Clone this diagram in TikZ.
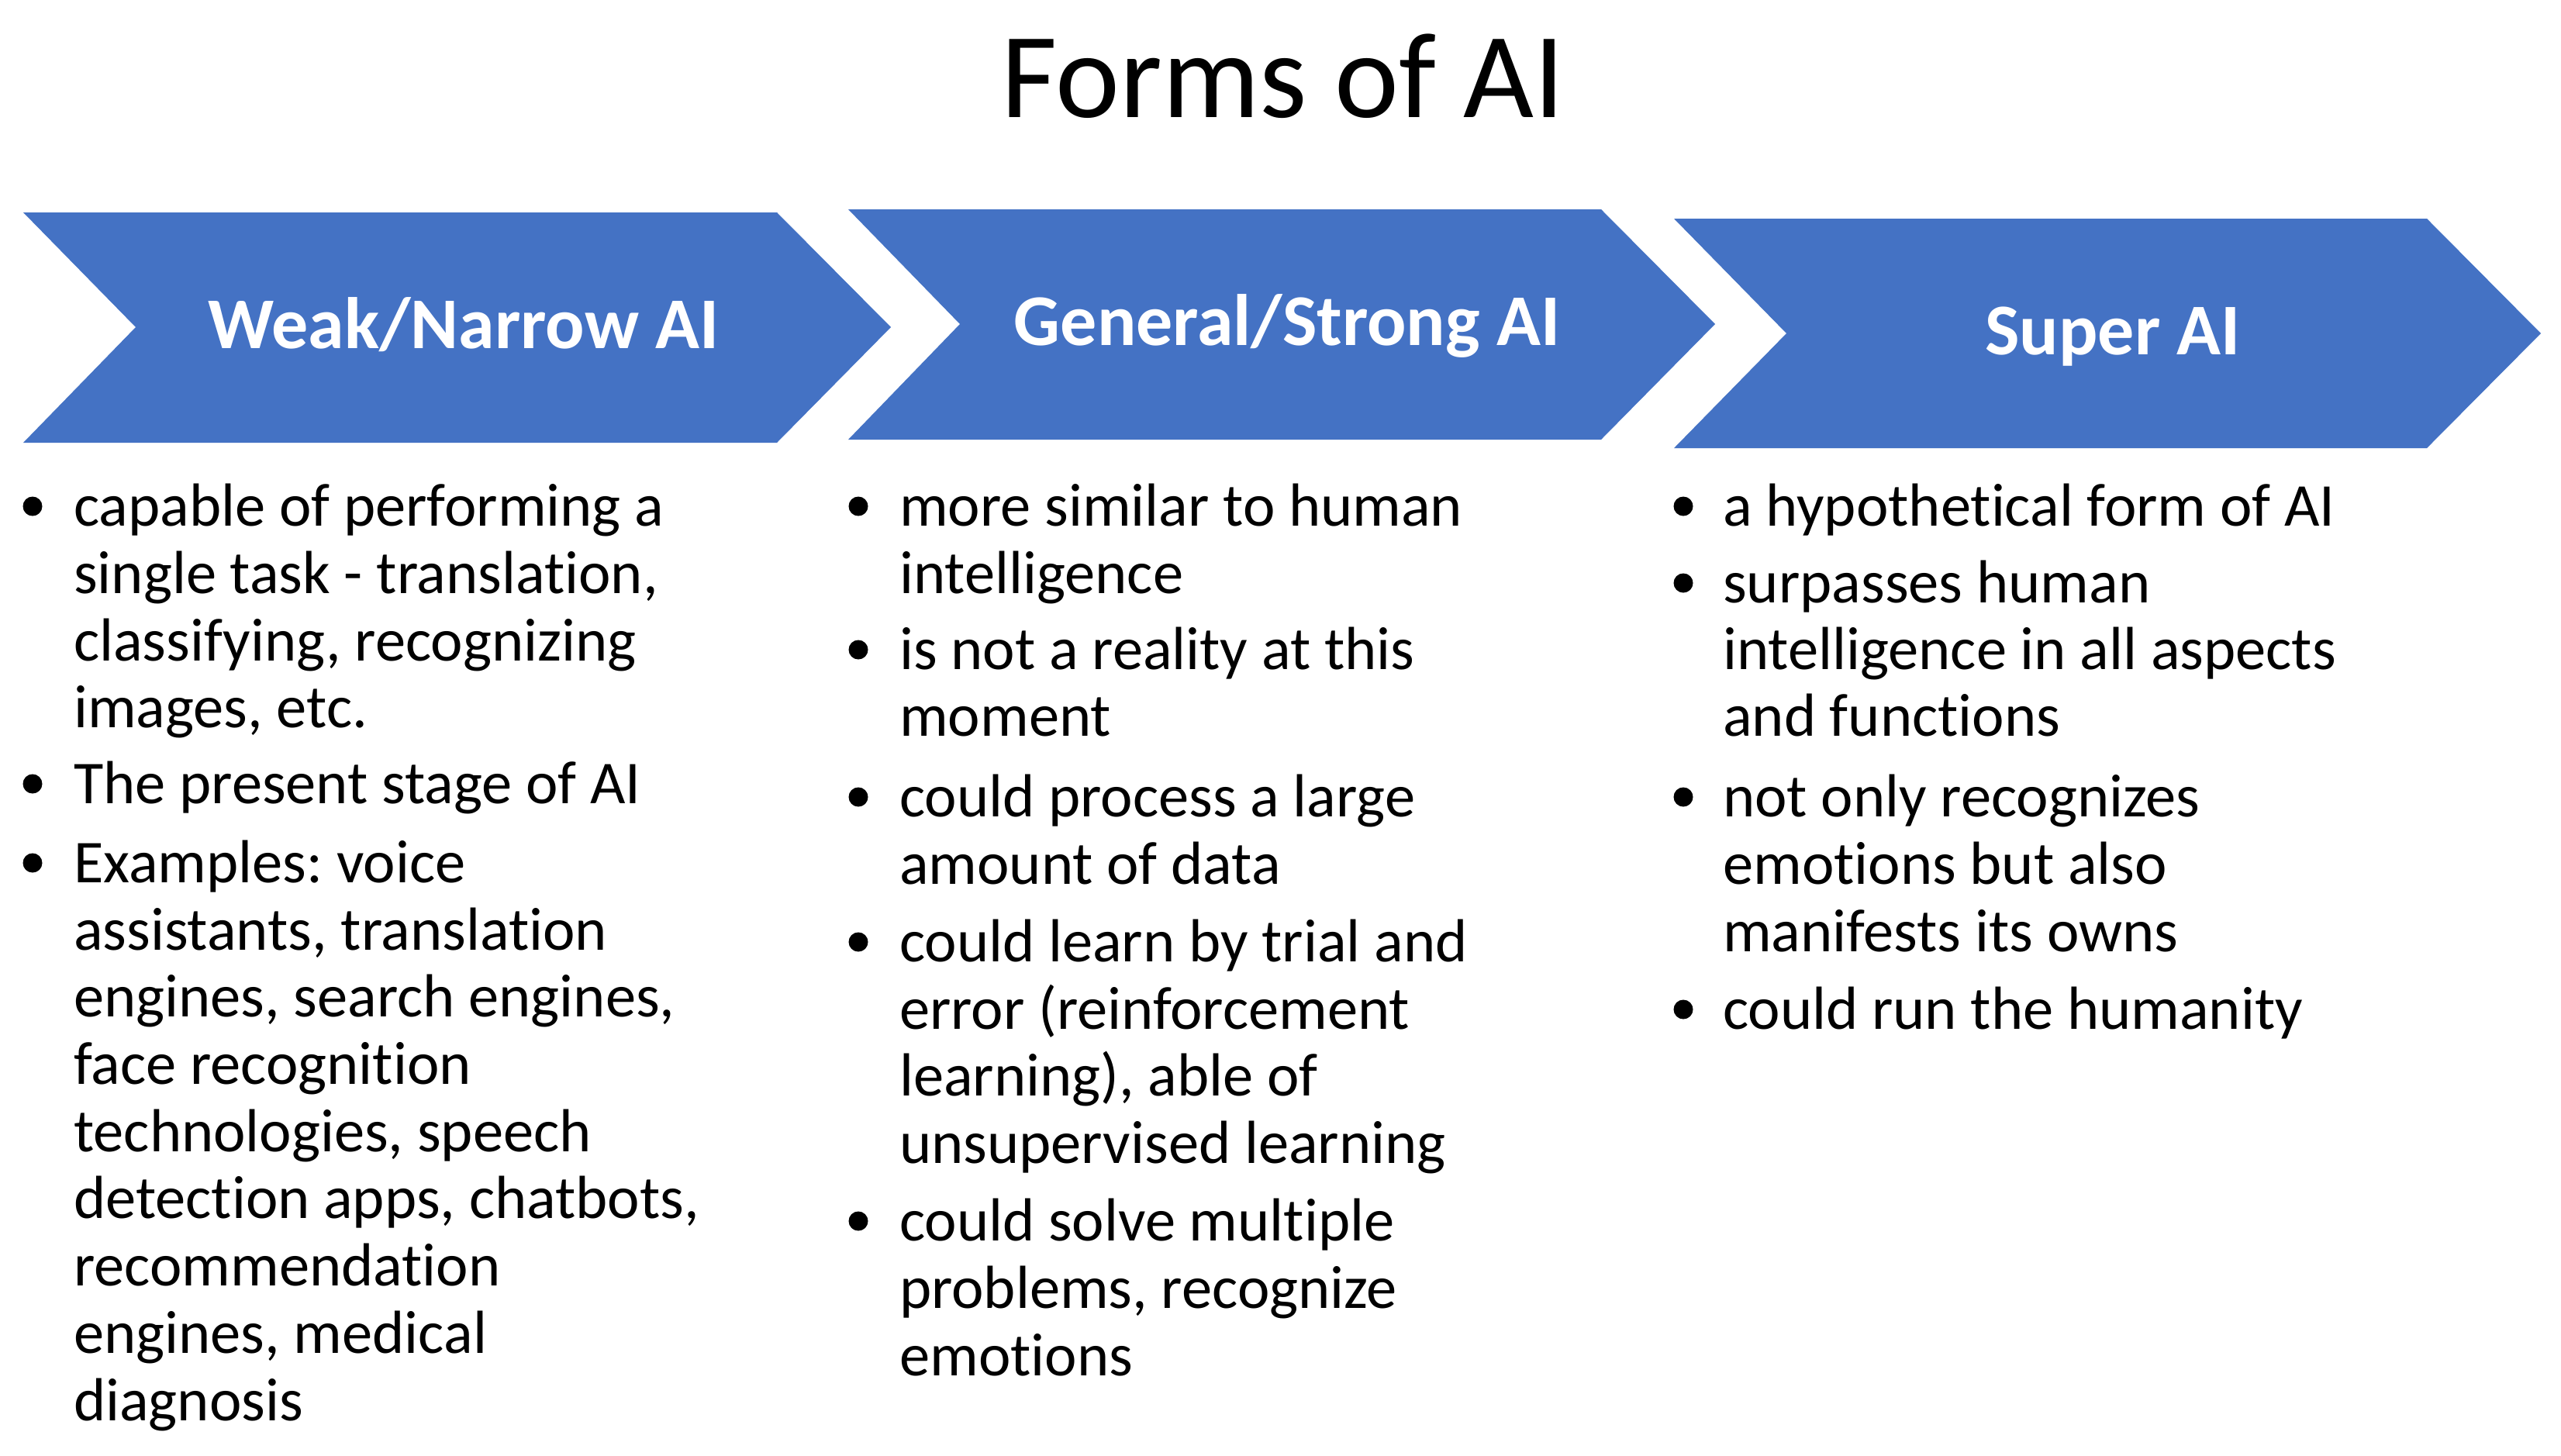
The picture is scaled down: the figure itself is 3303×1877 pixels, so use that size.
\documentclass[tikz,border=0pt]{standalone}
\usepackage{fontspec}
\setmainfont{Carlito}[Ligatures=NoCommon]
\definecolor{chev}{HTML}{4472C4}
\frenchspacing
\begin{document}
\begin{tikzpicture}[x=1pt,y=-1pt,
  body/.style={anchor=base west, inner sep=0pt, font=\fontsize{78.5}{86.7}\selectfont},
  bul/.style={circle, fill=black, inner sep=0pt, minimum size=25pt},
  head/.style={anchor=base, inner sep=0pt, text=white, font=\fontsize{94}{110}\selectfont\bfseries},
  chevron/.style={fill=chev, draw=none}]
\useasboundingbox (0,0) rectangle (3303,1877);
\fill[white] (0,0) rectangle (3303,1877);

% title
\node[anchor=base, inner sep=0pt, font=\fontsize{157}{190}\selectfont] (title) at (1655,151) {Forms of AI};

% chevrons
\path[chevron] (30,274) -- (1002,274) -- (1149,422) -- (1002,571) -- (30,571) -- (175,422) -- cycle;
\path[chevron] (1094,270) -- (2065,270) -- (2212,418) -- (2065,567) -- (1094,567) -- (1238,418) -- cycle;
\path[chevron] (2159,282) -- (3130,282) -- (3277,430) -- (3130,578) -- (2159,578) -- (2304,430) -- cycle;

\node[head] (h1) at (598,449) {Weak/Narrow AI};
\node[head] (h2) at (1660,445) {General/Strong AI};
\node[head] (h3) at (2725,457) {Super AI};

% column 1
\node[bul] (b11) at (42,653) {};
\node[body] (t11a) at (95,678) {capable of performing a};
\node[body] (t11b) at (95,765) {single task - translation,};
\node[body] (t11c) at (95,852) {classifying, recognizing};
\node[body] (t11d) at (95,938) {images, etc.};
\node[bul] (b12) at (42,1011) {};
\node[body] (t12a) at (95,1036) {The present stage of AI};
\node[bul] (b13) at (42,1113) {};
\node[body] (t13a) at (95,1138) {Examples: voice};
\node[body] (t13b) at (95,1225) {assistants, translation};
\node[body] (t13c) at (95,1311) {engines, search engines,};
\node[body] (t13d) at (95,1398) {face recognition};
\node[body] (t13e) at (95,1485) {technologies, speech};
\node[body] (t13f) at (95,1571) {detection apps, chatbots,};
\node[body] (t13g) at (95,1658) {recommendation};
\node[body] (t13h) at (95,1745) {engines, medical};
\node[body] (t13i) at (95,1832) {diagnosis};

% column 2
\node[bul] (b21) at (1107,653) {};
\node[body] (t21a) at (1160,678) {more similar to human};
\node[body] (t21b) at (1160,765) {intelligence};
\node[bul] (b22) at (1107,838) {};
\node[body] (t22a) at (1160,863) {is not a reality at this};
\node[body] (t22b) at (1160,949) {moment};
\node[bul] (b23) at (1107,1028) {};
\node[body] (t23a) at (1160,1053) {could process a large};
\node[body] (t23b) at (1160,1140) {amount of data};
\node[bul] (b24) at (1107,1215) {};
\node[body] (t24a) at (1160,1240) {could learn by trial and};
\node[body] (t24b) at (1160,1327) {error (reinforcement};
\node[body] (t24c) at (1160,1413) {learning), able of};
\node[body] (t24d) at (1160,1500) {unsupervised learning};
\node[bul] (b25) at (1107,1575) {};
\node[body] (t25a) at (1160,1600) {could solve multiple};
\node[body] (t25b) at (1160,1687) {problems, recognize};
\node[body] (t25c) at (1160,1774) {emotions};

% column 3
\node[bul] (b31) at (2171,653) {};
\node[body] (t31a) at (2222,678) {a hypothetical form of AI};
\node[bul] (b32) at (2171,752) {};
\node[body] (t32a) at (2222,777) {surpasses human};
\node[body] (t32b) at (2222,863) {intelligence in all aspects};
\node[body] (t32c) at (2222,949) {and functions};
\node[bul] (b33) at (2171,1028) {};
\node[body] (t33a) at (2222,1053) {not only recognizes};
\node[body] (t33b) at (2222,1140) {emotions but also};
\node[body] (t33c) at (2222,1227) {manifests its owns};
\node[bul] (b34) at (2171,1302) {};
\node[body] (t34a) at (2222,1327) {could run the humanity};
\end{tikzpicture}
\end{document}
